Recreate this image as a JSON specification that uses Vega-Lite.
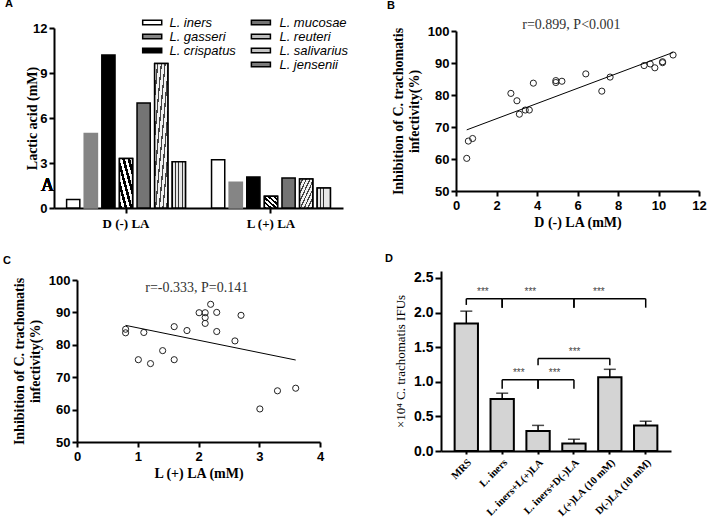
{
  "$schema": "https://vega.github.io/schema/vega-lite/v6.json",
  "padding": {"left": 3, "top": -2, "right": 0, "bottom": 0},
  "background": "white",
  "config": {
    "view": {"stroke": null},
    "axis": {
      "domainColor": "black", "domainWidth": 2, "tickColor": "black", "tickWidth": 2, "tickSize": 5,
      "labelFont": "Liberation Sans", "labelFontWeight": "bold", "labelFontSize": 13, "labelColor": "black",
      "labelFlush": false, "labelOverlap": false, "labelPadding": 2,
      "titleFont": "Liberation Serif", "titleFontWeight": "bold", "titleFontSize": 14, "titleColor": "black",
      "grid": false
    },
    "title": {"font": "Liberation Sans", "fontWeight": "bold", "fontSize": 11, "anchor": "start", "frame": "group", "color": "black", "baseline": "alphabetic"}
  },
  "columns": 2,
  "bounds": "flush",
  "align": "each",
  "spacing": {"row": 63, "column": 98},
  "concat": [
    {
      "title": {"text": "A", "dx": -49, "offset": 7},
      "width": 289, "height": 180,
      "data": {"values": [
        {"group": "D (-) LA", "species": "L. iners", "value": 0.57},
        {"group": "D (-) LA", "species": "L. gasseri", "value": 4.97},
        {"group": "D (-) LA", "species": "L. crispatus", "value": 10.2},
        {"group": "D (-) LA", "species": "L. jensenii", "value": 3.3},
        {"group": "D (-) LA", "species": "L. mucosae", "value": 7.0},
        {"group": "D (-) LA", "species": "L. reuteri", "value": 9.63},
        {"group": "D (-) LA", "species": "L. salivarius", "value": 3.08},
        {"group": "L (+) LA", "species": "L. iners", "value": 3.22},
        {"group": "L (+) LA", "species": "L. gasseri", "value": 1.71},
        {"group": "L (+) LA", "species": "L. crispatus", "value": 2.07},
        {"group": "L (+) LA", "species": "L. jensenii", "value": 0.78},
        {"group": "L (+) LA", "species": "L. mucosae", "value": 2.0},
        {"group": "L (+) LA", "species": "L. reuteri", "value": 1.93},
        {"group": "L (+) LA", "species": "L. salivarius", "value": 1.33}
      ]},
      "layer": [
        {
          "transform": [{"filter": {"field": "species", "oneOf": ["L. iners", "L. gasseri", "L. crispatus"]}}],
          "mark": {"type": "bar", "strokeWidth": 1.5},
          "encoding": {
            "x": {"field": "group", "type": "nominal", "sort": ["D (-) LA", "L (+) LA"],
              "scale": {"paddingInner": 0.18, "paddingOuter": 0.087},
              "axis": {"title": null, "labelAngle": 0, "labelFont": "Liberation Serif", "labelFontSize": 13, "labelPadding": 4}},
            "xOffset": {"field": "species", "type": "nominal",
              "scale": {"domain": ["L. iners", "L. gasseri", "L. crispatus", "L. jensenii", "L. mucosae", "L. reuteri", "L. salivarius"], "paddingInner": 0.25, "paddingOuter": 0}},
            "y": {"field": "value", "type": "quantitative", "scale": {"domain": [0, 12]},
              "axis": {"title": "Lactic acid (mM)", "values": [0, 3, 6, 9, 12], "tickCount": 20, "format": "d", "titlePadding": -7}},
            "fill": {"field": "species", "type": "nominal",
              "scale": {"domain": ["L. iners", "L. gasseri", "L. crispatus"], "range": ["white", "#858585", "black"]},
              "legend": {"orient": "none", "legendX": 91.7, "legendY": -12, "title": null, "padding": 0,
                "symbolType": "M-2.5,-0.6H2.5V0.6H-2.5Z", "symbolSize": 58, "symbolStrokeColor": "black", "symbolStrokeWidth": 1.5,
                "labelFont": "Liberation Sans", "labelFontStyle": "italic", "labelFontSize": 13, "labelColor": "black",
                "labelOffset": 10.7, "rowPadding": -6}},
            "stroke": {"condition": {"test": "datum.species === 'L. gasseri'", "value": "#858585"}, "value": "black"}
          }
        },
        {
          "transform": [{"filter": {"field": "species", "oneOf": ["L. jensenii", "L. mucosae", "L. reuteri", "L. salivarius"]}}],
          "mark": {"type": "bar", "strokeWidth": 1.5, "stroke": "black"},
          "encoding": {
            "x": {"field": "group", "type": "nominal", "sort": ["D (-) LA", "L (+) LA"], "title": null},
            "xOffset": {"field": "species", "type": "nominal",
              "scale": {"domain": ["L. iners", "L. gasseri", "L. crispatus", "L. jensenii", "L. mucosae", "L. reuteri", "L. salivarius"]}},
            "y": {"field": "value", "type": "quantitative", "title": "Lactic acid (mM)"},
            "fill": {"field": "species", "type": "nominal",
              "scale": {"domain": ["L. mucosae", "L. reuteri", "L. salivarius", "L. jensenii"], "range": ["#747474", "#bdbdbd", "#c4c4c4", "#7a7a7a"]},
              "legend": {"orient": "none", "legendX": 200.4, "legendY": -12, "title": null, "padding": 0,
                "symbolType": "M-2.5,-0.6H2.5V0.6H-2.5Z", "symbolSize": 58, "symbolStrokeColor": "black", "symbolStrokeWidth": 1.5,
                "labelFont": "Liberation Sans", "labelFontStyle": "italic", "labelFontSize": 13, "labelColor": "black",
                "labelOffset": 12, "rowPadding": -7.5}}
          }
        },
        {
          "transform": [{"filter": {"field": "species", "equal": "L. reuteri"}}],
          "mark": {"type": "bar", "strokeWidth": 1.5, "stroke": "black",
            "fill": {"gradient": "linear", "x1": 0, "y1": 0, "x2": 1, "y2": 1, "stops": [
              {"offset": 0, "color": "#f2f2f2"}, {"offset": 0.09, "color": "#f2f2f2"}, {"offset": 0.09, "color": "#444"}, {"offset": 0.14, "color": "#444"},
              {"offset": 0.14, "color": "#f2f2f2"}, {"offset": 0.23, "color": "#f2f2f2"}, {"offset": 0.23, "color": "#444"}, {"offset": 0.28, "color": "#444"},
              {"offset": 0.28, "color": "#f2f2f2"}, {"offset": 0.37, "color": "#f2f2f2"}, {"offset": 0.37, "color": "#444"}, {"offset": 0.42, "color": "#444"},
              {"offset": 0.42, "color": "#f2f2f2"}, {"offset": 0.51, "color": "#f2f2f2"}, {"offset": 0.51, "color": "#444"}, {"offset": 0.56, "color": "#444"},
              {"offset": 0.56, "color": "#f2f2f2"}, {"offset": 0.65, "color": "#f2f2f2"}, {"offset": 0.65, "color": "#444"}, {"offset": 0.70, "color": "#444"},
              {"offset": 0.70, "color": "#f2f2f2"}, {"offset": 0.79, "color": "#f2f2f2"}, {"offset": 0.79, "color": "#444"}, {"offset": 0.84, "color": "#444"},
              {"offset": 0.84, "color": "#f2f2f2"}, {"offset": 0.93, "color": "#f2f2f2"}, {"offset": 0.93, "color": "#444"}, {"offset": 0.98, "color": "#444"},
              {"offset": 0.98, "color": "#f2f2f2"}, {"offset": 1, "color": "#f2f2f2"}
            ]}},
          "encoding": {
            "x": {"field": "group", "type": "nominal", "sort": ["D (-) LA", "L (+) LA"], "title": null},
            "xOffset": {"field": "species", "type": "nominal",
              "scale": {"domain": ["L. iners", "L. gasseri", "L. crispatus", "L. jensenii", "L. mucosae", "L. reuteri", "L. salivarius"]}},
            "y": {"field": "value", "type": "quantitative", "title": "Lactic acid (mM)"}
          }
        },
        {
          "transform": [{"filter": {"field": "species", "equal": "L. salivarius"}}],
          "mark": {"type": "bar", "strokeWidth": 1.5, "stroke": "black",
            "fill": {"gradient": "linear", "x1": 0, "y1": 0, "x2": 1, "y2": 0, "stops": [
              {"offset": 0, "color": "#e6e6e6"}, {"offset": 0.22, "color": "#e6e6e6"}, {"offset": 0.22, "color": "#333"}, {"offset": 0.28, "color": "#333"},
              {"offset": 0.28, "color": "#e6e6e6"}, {"offset": 0.47, "color": "#e6e6e6"}, {"offset": 0.47, "color": "#333"}, {"offset": 0.53, "color": "#333"},
              {"offset": 0.53, "color": "#e6e6e6"}, {"offset": 0.72, "color": "#e6e6e6"}, {"offset": 0.72, "color": "#333"}, {"offset": 0.78, "color": "#333"},
              {"offset": 0.78, "color": "#e6e6e6"}, {"offset": 1, "color": "#e6e6e6"}
            ]}},
          "encoding": {
            "x": {"field": "group", "type": "nominal", "sort": ["D (-) LA", "L (+) LA"], "title": null},
            "xOffset": {"field": "species", "type": "nominal",
              "scale": {"domain": ["L. iners", "L. gasseri", "L. crispatus", "L. jensenii", "L. mucosae", "L. reuteri", "L. salivarius"]}},
            "y": {"field": "value", "type": "quantitative", "title": "Lactic acid (mM)"}
          }
        },
        {
          "transform": [{"filter": {"field": "species", "equal": "L. jensenii"}}],
          "mark": {"type": "bar", "strokeWidth": 1.5, "stroke": "black",
            "fill": {"gradient": "linear", "x1": 0, "y1": 1, "x2": 1, "y2": 0, "stops": [
              {"offset": 0, "color": "black"}, {"offset": 0.1, "color": "black"}, {"offset": 0.1, "color": "white"}, {"offset": 0.2, "color": "white"},
              {"offset": 0.2, "color": "black"}, {"offset": 0.3, "color": "black"}, {"offset": 0.3, "color": "white"}, {"offset": 0.4, "color": "white"},
              {"offset": 0.4, "color": "black"}, {"offset": 0.5, "color": "black"}, {"offset": 0.5, "color": "white"}, {"offset": 0.6, "color": "white"},
              {"offset": 0.6, "color": "black"}, {"offset": 0.7, "color": "black"}, {"offset": 0.7, "color": "white"}, {"offset": 0.8, "color": "white"},
              {"offset": 0.8, "color": "black"}, {"offset": 0.9, "color": "black"}, {"offset": 0.9, "color": "white"}, {"offset": 1, "color": "white"}
            ]}},
          "encoding": {
            "x": {"field": "group", "type": "nominal", "sort": ["D (-) LA", "L (+) LA"], "title": null},
            "xOffset": {"field": "species", "type": "nominal",
              "scale": {"domain": ["L. iners", "L. gasseri", "L. crispatus", "L. jensenii", "L. mucosae", "L. reuteri", "L. salivarius"]}},
            "y": {"field": "value", "type": "quantitative", "title": "Lactic acid (mM)"}
          }
        },
        {
          "mark": {"type": "text", "font": "Liberation Serif", "fontSize": 18, "dx": -19, "align": "center", "baseline": "middle", "color": "black"},
          "encoding": {
            "x": {"datum": "D (-) LA", "type": "nominal", "bandPosition": 0},
            "y": {"datum": 1.5, "type": "quantitative"},
            "text": {"value": "A"}
          }
        }
      ],
      "resolve": {"scale": {"fill": "independent"}}
    },
    {
      "title": {"text": "B", "dx": -54, "offset": 7},
      "width": 258, "height": 163,
      "layer": [
        {
          "data": {"values": [
            {"d": 0.53, "inh": 60.2}, {"d": 0.61, "inh": 65.6}, {"d": 0.82, "inh": 66.4},
            {"d": 2.71, "inh": 80.5}, {"d": 3.01, "inh": 78.2}, {"d": 3.13, "inh": 74.0},
            {"d": 3.42, "inh": 75.3}, {"d": 3.62, "inh": 75.3}, {"d": 3.82, "inh": 83.7},
            {"d": 4.93, "inh": 84.5}, {"d": 4.93, "inh": 83.9}, {"d": 5.23, "inh": 84.3},
            {"d": 6.41, "inh": 86.6}, {"d": 7.2, "inh": 81.2}, {"d": 7.61, "inh": 85.6},
            {"d": 9.29, "inh": 89.2}, {"d": 9.59, "inh": 89.7}, {"d": 9.82, "inh": 88.5},
            {"d": 10.2, "inh": 90.1}, {"d": 10.2, "inh": 90.4}, {"d": 10.72, "inh": 92.5}
          ]},
          "mark": {"type": "point", "shape": "circle", "size": 38, "filled": false, "stroke": "#222", "strokeWidth": 1, "opacity": 1},
          "encoding": {
            "x": {"field": "d", "type": "quantitative", "scale": {"domain": [0, 12], "range": [15, 258]},
              "axis": {"title": "D (-) LA (mM)", "values": [0, 2, 4, 6, 8, 10, 12], "tickCount": 20, "format": "d", "labelPadding": 3, "titlePadding": 3}},
            "y": {"field": "inh", "type": "quantitative", "scale": {"domain": [50, 100], "range": [163, 3]},
              "axis": {"title": ["Inhibition of C. trachomatis", "infectivity(%)"], "values": [50, 60, 70, 80, 90, 100], "tickCount": 20, "format": "d", "titlePadding": 6, "offset": -15}}
          }
        },
        {
          "data": {"values": [{"d": 0.53, "inh": 69.1}, {"d": 10.72, "inh": 93.3}]},
          "mark": {"type": "line", "color": "black", "strokeWidth": 1},
          "encoding": {"x": {"field": "d", "type": "quantitative"}, "y": {"field": "inh", "type": "quantitative"}}
        },
        {
          "data": {"values": [{"label": "r=0.899, P<0.001"}]},
          "mark": {"type": "text", "font": "Liberation Serif", "fontSize": 14, "color": "#333", "align": "center", "baseline": "middle"},
          "encoding": {"x": {"datum": 5.7, "type": "quantitative"}, "y": {"datum": 101.9, "type": "quantitative"}, "text": {"field": "label"}}
        }
      ]
    },
    {
      "title": {"text": "C", "dx": -51, "offset": 5},
      "width": 266, "height": 171,
      "layer": [
        {
          "data": {"values": [
            {"l": 0.8, "inh": 84.8}, {"l": 0.8, "inh": 83.7}, {"l": 1.01, "inh": 75.4},
            {"l": 1.1, "inh": 83.8}, {"l": 1.21, "inh": 74.2}, {"l": 1.41, "inh": 78.2},
            {"l": 1.6, "inh": 85.6}, {"l": 1.6, "inh": 75.4}, {"l": 1.81, "inh": 84.4},
            {"l": 2.01, "inh": 89.9}, {"l": 2.11, "inh": 89.9}, {"l": 2.11, "inh": 88.4},
            {"l": 2.11, "inh": 86.6}, {"l": 2.2, "inh": 92.5}, {"l": 2.3, "inh": 90.0},
            {"l": 2.3, "inh": 84.1}, {"l": 2.6, "inh": 81.2}, {"l": 2.7, "inh": 89.1},
            {"l": 3.01, "inh": 60.2}, {"l": 3.3, "inh": 65.8}, {"l": 3.6, "inh": 66.6}
          ]},
          "mark": {"type": "point", "shape": "circle", "size": 38, "filled": false, "stroke": "#222", "strokeWidth": 1, "opacity": 1},
          "encoding": {
            "x": {"field": "l", "type": "quantitative", "scale": {"domain": [0, 4], "range": [23, 266]},
              "axis": {"title": "L (+) LA (mM)", "values": [0, 1, 2, 3, 4], "tickCount": 20, "format": "d", "labelPadding": 3, "titlePadding": 3}},
            "y": {"field": "inh", "type": "quantitative", "scale": {"domain": [50, 100], "range": [171, 9]},
              "axis": {"title": ["Inhibition of C. trachomatis", "infectivity(%)"], "values": [50, 60, 70, 80, 90, 100], "tickCount": 20, "format": "d", "titlePadding": 6, "offset": -23}}
          }
        },
        {
          "data": {"values": [{"l": 0.8, "inh": 86.0}, {"l": 3.6, "inh": 75.3}]},
          "mark": {"type": "line", "color": "black", "strokeWidth": 1},
          "encoding": {"x": {"field": "l", "type": "quantitative"}, "y": {"field": "inh", "type": "quantitative"}}
        },
        {
          "data": {"values": [{"label": "r=-0.333,  P=0.141"}]},
          "mark": {"type": "text", "font": "Liberation Serif", "fontSize": 14, "color": "#333", "align": "center", "baseline": "middle"},
          "encoding": {"x": {"datum": 1.97, "type": "quantitative"}, "y": {"datum": 97.6, "type": "quantitative"}, "text": {"field": "label"}}
        }
      ]
    },
    {
      "title": {"text": "D", "dx": -56, "offset": 7},
      "width": 230, "height": 180,
      "layer": [
        {
          "data": {"values": [
            {"cond": "MRS", "mean": 1.84, "upper": 2.02},
            {"cond": "L. iners", "mean": 0.75, "upper": 0.835},
            {"cond": "L. iners+L(+)LA", "mean": 0.29, "upper": 0.37},
            {"cond": "L. iners+D(-)LA", "mean": 0.11, "upper": 0.17},
            {"cond": "L(+)LA  (10 mM)", "mean": 1.067, "upper": 1.18},
            {"cond": "D(-)LA  (10 mM)", "mean": 0.37, "upper": 0.43}
          ]},
          "layer": [
            {
              "mark": {"type": "rule", "color": "black", "strokeWidth": 1.5},
              "encoding": {
                "x": {"field": "cond", "type": "nominal",
                  "scale": {"domain": ["MRS", "L. iners", "L. iners+L(+)LA", "L. iners+D(-)LA", "L(+)LA  (10 mM)", "D(-)LA  (10 mM)"], "paddingInner": 0.35, "paddingOuter": 0.38},
                  "axis": {"title": null, "labelAngle": -45, "labelFont": "Liberation Serif", "labelFontSize": 10.5, "tickSize": 3, "labelPadding": 3}},
                "y": {"field": "mean", "type": "quantitative", "scale": {"domain": [0, 2.5]},
                  "axis": {"title": "×10⁴ C. trachomatis IFUs", "titleFontWeight": "normal", "titleFontSize": 13, "values": [0, 0.5, 1, 1.5, 2, 2.5], "tickCount": 20, "format": ".1f", "labelFontSize": 14, "tickSize": 6, "titlePadding": 6}},
                "y2": {"field": "upper"}
              }
            },
            {
              "mark": {"type": "tick", "orient": "horizontal", "color": "black", "size": 12, "thickness": 1.5},
              "encoding": {
                "x": {"field": "cond", "type": "nominal"},
                "y": {"field": "upper", "type": "quantitative"}
              }
            },
            {
              "mark": {"type": "bar", "fill": "#d4d4d4", "stroke": "black", "strokeWidth": 2},
              "encoding": {
                "x": {"field": "cond", "type": "nominal"},
                "y": {"field": "mean", "type": "quantitative"}
              }
            }
          ]
        },
        {
          "data": {"values": [
            {"id": 1, "x1": "MRS", "x2": "L. iners", "y": 2.2, "l1": 2.11, "l2": 2.07, "label": "***"},
            {"id": 2, "x1": "L. iners", "x2": "L. iners+D(-)LA", "y": 2.2, "l1": 2.07, "l2": 2.07, "label": "***"},
            {"id": 3, "x1": "L. iners+D(-)LA", "x2": "D(-)LA  (10 mM)", "y": 2.2, "l1": 2.07, "l2": 2.07, "label": "***"},
            {"id": 4, "x1": "L. iners+L(+)LA", "x2": "L(+)LA  (10 mM)", "y": 1.336, "l1": 1.24, "l2": 1.24, "label": "***"},
            {"id": 5, "x1": "L. iners", "x2": "L. iners+L(+)LA", "y": 1.03, "l1": 0.9, "l2": 0.9, "label": "***"},
            {"id": 6, "x1": "L. iners+L(+)LA", "x2": "L. iners+D(-)LA", "y": 1.03, "l1": 0.9, "l2": 0.9, "label": "***"}
          ]},
          "layer": [
            {
              "mark": {"type": "rule", "color": "black", "strokeWidth": 1.5},
              "encoding": {"x": {"field": "x1", "type": "nominal"}, "x2": {"field": "x2"}, "y": {"field": "y", "type": "quantitative"}}
            },
            {
              "mark": {"type": "rule", "color": "black", "strokeWidth": 1.5},
              "encoding": {"x": {"field": "x1", "type": "nominal"}, "y": {"field": "y", "type": "quantitative"}, "y2": {"field": "l1"}}
            },
            {
              "mark": {"type": "rule", "color": "black", "strokeWidth": 1.5},
              "encoding": {"x": {"field": "x2", "type": "nominal"}, "y": {"field": "y", "type": "quantitative"}, "y2": {"field": "l2"}}
            },
            {
              "transform": [{"filter": "datum.id === 1 || datum.id === 5 || datum.id === 6"}],
              "mark": {"type": "text", "font": "Liberation Sans", "fontSize": 10, "color": "#444", "baseline": "bottom", "dy": -2},
              "encoding": {"x": {"field": "x1", "type": "nominal", "bandPosition": 1.21}, "y": {"field": "y", "type": "quantitative"}, "text": {"field": "label"}}
            },
            {
              "transform": [{"filter": "datum.id === 2"}],
              "mark": {"type": "text", "font": "Liberation Sans", "fontSize": 10, "color": "#444", "baseline": "bottom", "dy": -2},
              "encoding": {"x": {"field": "x1", "type": "nominal", "bandPosition": 1.71}, "y": {"field": "y", "type": "quantitative"}, "text": {"field": "label"}}
            },
            {
              "transform": [{"filter": "datum.id === 3"}],
              "mark": {"type": "text", "font": "Liberation Sans", "fontSize": 10, "color": "#444", "baseline": "bottom", "dy": -2},
              "encoding": {"x": {"field": "x1", "type": "nominal", "bandPosition": 1.57}, "y": {"field": "y", "type": "quantitative"}, "text": {"field": "label"}}
            },
            {
              "transform": [{"filter": "datum.id === 4"}],
              "mark": {"type": "text", "font": "Liberation Sans", "fontSize": 10, "color": "#444", "baseline": "bottom", "dy": -2},
              "encoding": {"x": {"field": "x1", "type": "nominal", "bandPosition": 2.07}, "y": {"field": "y", "type": "quantitative"}, "text": {"field": "label"}}
            }
          ]
        }
      ]
    }
  ]
}
